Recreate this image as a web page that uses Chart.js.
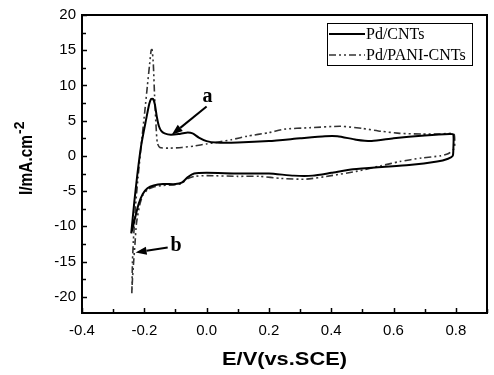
<!DOCTYPE html>
<html><head><meta charset="utf-8">
<script src="https://cdn.jsdelivr.net/npm/chart.js@4.4.0/dist/chart.umd.min.js"></script>
<style>html,body{margin:0;padding:0;background:#fff;}#wrap{width:494px;height:375px;}</style>
</head><body><div id="wrap"><canvas id="c" width="494" height="375"></canvas></div>
<script>
const seriesNames = ['Pd/CNTs', 'Pd/PANI-CNTs'];
const cntE = [-0.242,-0.232,-0.222,-0.210,-0.195,-0.184,-0.178,-0.172,-0.166,-0.160,-0.153,-0.145,-0.135,-0.115,-0.090,-0.065,-0.045,-0.025,0.000,0.030,0.100,0.200,0.300,0.380,0.420,0.480,0.530,0.600,0.700,0.780,0.792,0.792,0.790,0.775,0.740,0.650,0.550,0.470,0.400,0.340,0.280,0.200,0.100,0.000,-0.040,-0.060,-0.080,-0.100,-0.140,-0.170,-0.190,-0.205,-0.218,-0.228,-0.236,-0.242];
const cntI = [-11.0,-6.5,-2.5,1.5,5.0,7.4,8.1,8.1,7.3,5.6,4.2,3.5,3.2,3.0,3.1,3.3,3.2,2.6,2.1,1.9,1.9,2.1,2.5,2.8,2.8,2.3,2.1,2.5,2.9,3.1,3.0,1.0,0.0,-0.4,-0.8,-1.3,-1.6,-1.9,-2.4,-2.8,-2.8,-2.5,-2.5,-2.4,-2.5,-3.0,-3.8,-4.0,-4.0,-4.2,-4.6,-5.4,-6.8,-8.5,-10.0,-11.0];
const paniE = [-0.240,-0.238,-0.235,-0.228,-0.220,-0.210,-0.198,-0.190,-0.183,-0.178,-0.175,-0.171,-0.167,-0.162,-0.158,-0.150,-0.120,-0.080,-0.040,0.000,0.030,0.080,0.130,0.200,0.250,0.330,0.430,0.500,0.560,0.620,0.690,0.750,0.785,0.795,0.795,0.775,0.750,0.690,0.620,0.560,0.480,0.400,0.320,0.240,0.170,0.100,0.000,-0.040,-0.060,-0.080,-0.100,-0.140,-0.170,-0.190,-0.205,-0.215,-0.225,-0.230,-0.235,-0.238,-0.240];
const paniI = [-19.5,-15.0,-12.0,-7.0,-3.0,1.5,6.5,10.0,13.0,15.0,15.1,13.0,8.5,4.0,1.8,1.2,1.1,1.2,1.4,1.7,1.9,2.3,2.8,3.3,3.8,4.0,4.2,3.9,3.5,3.2,3.1,3.1,3.2,3.0,1.1,0.3,0.0,-0.3,-0.8,-1.4,-2.2,-2.8,-3.3,-3.2,-2.9,-2.9,-2.8,-2.9,-3.2,-3.9,-4.1,-4.2,-4.4,-4.8,-5.6,-7.0,-9.5,-12.5,-15.5,-17.5,-19.5];
const xTicks = [-0.4, -0.2, 0.0, 0.2, 0.4, 0.6, 0.8];
const yTicks = [-20, -15, -10, -5, 0, 5, 10, 15, 20];
const xTitle = 'E/V(vs.SCE)';
const yTitle = 'I/mA.cm';
const yTitleSup = '-2';

const notes = [
  {text: 'a', tx: 0.003, ty: 8.4, from: [0.0, 7.0], to: [-0.112, 3.0]},
  {text: 'b', tx: -0.098, ty: -12.8, from: [-0.125, -13.0], to: [-0.228, -13.7]}
];

const SANS = "'Liberation Sans', Arial, sans-serif";
const SERIF = "'Liberation Serif', 'Times New Roman', serif";
const DASH = [7, 3, 2, 3, 2, 3];

function pts(xs, ys) { return xs.map((x, i) => ({x: x, y: ys[i]})); }

function arrow(ctx, x1, y1, x2, y2) {
  const ang = Math.atan2(y2 - y1, x2 - x1);
  const hl = 11, hw = 4;
  const bx = x2 - hl * Math.cos(ang), by = y2 - hl * Math.sin(ang);
  ctx.beginPath(); ctx.moveTo(x1, y1); ctx.lineTo(bx, by);
  ctx.lineWidth = 2; ctx.strokeStyle = '#000'; ctx.setLineDash([]); ctx.stroke();
  ctx.beginPath(); ctx.moveTo(x2, y2);
  ctx.lineTo(bx + hw * Math.sin(ang), by - hw * Math.cos(ang));
  ctx.lineTo(bx - hw * Math.sin(ang), by + hw * Math.cos(ang));
  ctx.closePath(); ctx.fillStyle = '#000'; ctx.fill();
}

const decor = {
  id: 'decor',
  afterDatasetsDraw(chart) {
    const ctx = chart.ctx, a = chart.chartArea, xs = chart.scales.x, ys = chart.scales.y;
    ctx.save();
    ctx.strokeStyle = '#000'; ctx.lineWidth = 1.5; ctx.setLineDash([]);
    for (let k = -4; k <= 9; k++) {
      const v = k / 10, px = Math.round(xs.getPixelForValue(v)) + 0.5;
      const len = (k % 2 === 0) ? 5 : 4;
      ctx.beginPath(); ctx.moveTo(px, a.bottom); ctx.lineTo(px, a.bottom - len); ctx.stroke();
    }
    for (let k = -8; k <= 8; k++) {
      const v = k * 2.5, py = Math.round(ys.getPixelForValue(v)) + 0.5;
      const len = (k % 2 === 0) ? 5 : 4;
      ctx.beginPath(); ctx.moveTo(a.left, py); ctx.lineTo(a.left + len, py); ctx.stroke();
    }
    ctx.lineWidth = 2;
    ctx.strokeRect(a.left, a.top, a.right - a.left, a.bottom - a.top);

    ctx.fillStyle = '#000';
    ctx.font = 'bold 18px ' + SANS;
    ctx.textBaseline = 'alphabetic'; ctx.textAlign = 'left';
    let w = ctx.measureText(xTitle).width, target = 125;
    ctx.save();
    ctx.translate((a.left + a.right) / 2 - target / 2, 365);
    ctx.scale(target / w, 1);
    ctx.fillText(xTitle, 0, 0);
    ctx.restore();

    ctx.save();
    ctx.translate(32, 195);
    ctx.rotate(-Math.PI / 2);
    ctx.font = 'bold 18px ' + SANS;
    w = ctx.measureText(yTitle).width; target = 60;
    ctx.save(); ctx.scale(target / w, 1); ctx.fillText(yTitle, 0, 0); ctx.restore();
    ctx.font = 'bold 14px ' + SANS;
    ctx.fillText(yTitleSup, target + 1, -8);
    ctx.restore();

    const lx = 327, ly = 23, lw = 145, lh = 42;
    ctx.lineWidth = 1; ctx.strokeStyle = '#000';
    ctx.strokeRect(lx + 0.5, ly + 0.5, lw, lh);
    ctx.font = '16px ' + SERIF; ctx.textBaseline = 'middle'; ctx.fillStyle = '#000';
    const rows = [34, 55];
    chart.data.datasets.forEach((ds, i) => {
      ctx.beginPath(); ctx.moveTo(lx + 2, rows[i]); ctx.lineTo(lx + 38, rows[i]);
      ctx.lineWidth = ds.borderWidth; ctx.strokeStyle = ds.borderColor;
      ctx.setLineDash(ds.borderDash || []); ctx.stroke();
      ctx.setLineDash([]);
      ctx.fillText(seriesNames[i], lx + 39, rows[i] + 1);
    });

    ctx.font = 'bold 20px ' + SERIF; ctx.textAlign = 'center'; ctx.textBaseline = 'middle';
    notes.forEach(n => {
      ctx.fillStyle = '#000';
      ctx.fillText(n.text, xs.getPixelForValue(n.tx), ys.getPixelForValue(n.ty));
      arrow(ctx, xs.getPixelForValue(n.from[0]), ys.getPixelForValue(n.from[1]),
                 xs.getPixelForValue(n.to[0]), ys.getPixelForValue(n.to[1]));
    });
    ctx.restore();
  }
};

new Chart(document.getElementById('c'), {
  type: 'scatter',
  data: {
    datasets: [
      {label: seriesNames[0], data: pts(cntE, cntI), showLine: true, borderColor: '#000', borderWidth: 2,
       pointRadius: 0, tension: 0.2, fill: false},
      {label: seriesNames[1], data: pts(paniE, paniI), showLine: true, borderColor: '#333', borderWidth: 1.6,
       borderDash: DASH, pointRadius: 0, tension: 0.2, fill: false}
    ]
  },
  options: {
    responsive: false, animation: false, devicePixelRatio: 1,
    layout: {padding: {left: 0, right: 7, top: 13, bottom: 0}},
    plugins: {legend: {display: false}, tooltip: {enabled: false}},
    scales: {
      x: {
        type: 'linear', min: -0.4, max: 0.9,
        grid: {display: false, drawTicks: false}, border: {display: false},
        afterBuildTicks: s => { s.ticks = xTicks.map(v => ({value: v})); },
        afterFit: s => { s.height = 62; },
        ticks: {color: '#000', font: {family: SANS, size: 15}, padding: 9, maxRotation: 0,
                callback: v => Number(v).toFixed(1)}
      },
      y: {
        type: 'linear', min: -22.3, max: 20,
        grid: {display: false, drawTicks: false}, border: {display: false},
        afterBuildTicks: s => { s.ticks = yTicks.map(v => ({value: v})); },
        afterFit: s => { s.width = 82; },
        ticks: {color: '#000', font: {family: SANS, size: 15}, padding: 6,
                callback: v => String(v)}
      }
    }
  },
  plugins: [decor]
});
</script></body></html>
